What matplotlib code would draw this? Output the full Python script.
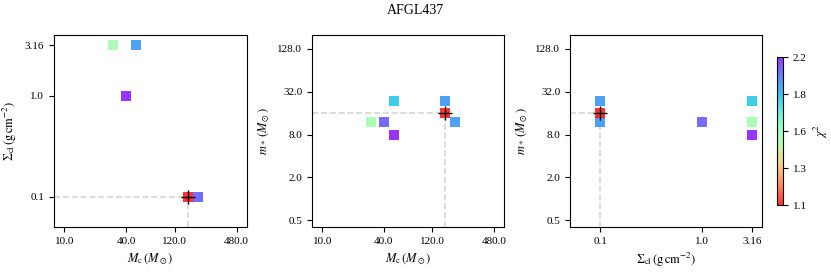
import numpy as np
import matplotlib
matplotlib.use('Agg')
import matplotlib.pyplot as plt
from matplotlib import cm
from matplotlib.colors import Normalize

plt.rcParams['font.family'] = 'serif'
plt.rcParams['font.serif'] = ['Liberation Serif', 'DejaVu Serif']
plt.rcParams['mathtext.fontset'] = 'stix'
plt.rcParams['font.size'] = 8
plt.rcParams['axes.labelsize'] = 9

source = 'AFGL437'

# panel 1: Mc vs Sigma_cl
p1_mc = [30, 50, 40, 200, 160]
p1_sigma = [3.16, 3.16, 1.0, 0.1, 0.1]
p1_chi2 = [1.6, 2.0, 2.2, 2.1, 1.1]

# panel 2: Mc vs m_star
p2_mc = [50, 40, 200, 160, 30, 50, 160]
p2_mstar = [8, 12, 12, 24, 12, 24, 16]
p2_chi2 = [2.2, 2.1, 2.0, 2.0, 1.6, 1.9, 1.1]

# panel 3: Sigma_cl vs m_star
p3_sigma = [3.16, 1.0, 0.1, 0.1, 3.16, 3.16, 0.1]
p3_mstar = [8, 12, 12, 24, 12, 24, 16]
p3_chi2 = [2.2, 2.1, 2.0, 2.0, 1.6, 1.9, 1.1]

# best model
best_mc = 160
best_sigma = 0.1
best_mstar = 16

mc_ticks = [10.0, 40.0, 120.0, 480.0]
sigma_ticks = [0.1, 1.0, 3.16]
mstar_ticks = [0.5, 2.0, 8.0, 32.0, 128.0]
cbar_ticklabels = ['1.1', '1.3', '1.6', '1.8', '2.2']
chi2_min, chi2_max = 1.1, 2.2

cmap = plt.get_cmap('rainbow_r')
norm = Normalize(vmin=chi2_min, vmax=chi2_max)

fig = plt.figure(figsize=(8.31, 2.72), dpi=100)
ax1 = fig.add_axes([0.065, 0.165, 0.232, 0.706])
ax2 = fig.add_axes([0.3755, 0.165, 0.231, 0.706])
ax3 = fig.add_axes([0.686, 0.165, 0.231, 0.706])
cax = fig.add_axes([0.935, 0.246, 0.0072, 0.544])

mc_lim = (7.9, 605)
sigma_lim = (0.05, 3.97)
mstar_lim = (0.4, 200)

gray = '#d5d5d5'
sq = dict(marker='s', s=52, cmap=cmap, norm=norm, alpha=0.8, linewidths=0, zorder=3)
cross = dict(marker='+', color='k', markersize=10, mew=1.0, zorder=5, linestyle='none')

def setup(ax, xt, yt, xlim, ylim):
    ax.set_xscale('log')
    ax.set_yscale('log')
    ax.set_xlim(*xlim)
    ax.set_ylim(*ylim)
    ax.set_xticks(xt)
    ax.set_xticklabels([str(t) for t in xt])
    ax.set_yticks(yt)
    ax.set_yticklabels([str(t) for t in yt])
    ax.minorticks_off()

# Mc vs Sigma
setup(ax1, mc_ticks, sigma_ticks, mc_lim, sigma_lim)
ax1.scatter(p1_mc, p1_sigma, c=p1_chi2, **sq)
ax1.plot([mc_lim[0], best_mc], [best_sigma, best_sigma], '--', color=gray, lw=1.2, zorder=1)
ax1.plot([best_mc, best_mc], [sigma_lim[0], best_sigma], '--', color=gray, lw=1.2, zorder=1)
ax1.plot(best_mc, best_sigma, **cross)
ax1.set_xlabel(r'$M_{\rm c}\,(M_\odot)$')
ax1.set_ylabel(r'$\Sigma_{\rm cl}\,({\rm g\,cm^{-2}})$')

# Mc vs mstar
setup(ax2, mc_ticks, mstar_ticks, mc_lim, mstar_lim)
ax2.scatter(p2_mc, p2_mstar, c=p2_chi2, **sq)
ax2.plot([mc_lim[0], best_mc], [best_mstar, best_mstar], '--', color=gray, lw=1.2, zorder=1)
ax2.plot([best_mc, best_mc], [mstar_lim[0], best_mstar], '--', color=gray, lw=1.2, zorder=1)
ax2.plot(best_mc, best_mstar, **cross)
ax2.set_xlabel(r'$M_{\rm c}\,(M_\odot)$')
ax2.set_ylabel(r'$m_*\,(M_\odot)$')

# Sigma vs mstar
setup(ax3, sigma_ticks, mstar_ticks, sigma_lim, mstar_lim)
ax3.scatter(p3_sigma, p3_mstar, c=p3_chi2, **sq)
ax3.plot([sigma_lim[0], best_sigma], [best_mstar, best_mstar], '--', color=gray, lw=1.2, zorder=1)
ax3.plot([best_sigma, best_sigma], [mstar_lim[0], best_mstar], '--', color=gray, lw=1.2, zorder=1)
ax3.plot(best_sigma, best_mstar, **cross)
ax3.set_xlabel(r'$\Sigma_{\rm cl}\,({\rm g\,cm^{-2}})$')
ax3.set_ylabel(r'$m_*\,(M_\odot)$')

sm = cm.ScalarMappable(norm=norm, cmap=cmap)
sm.set_array([])
cb = fig.colorbar(sm, cax=cax, alpha=0.8)
cb.set_ticks(np.linspace(chi2_min, chi2_max, len(cbar_ticklabels)))
cb.set_ticklabels(cbar_ticklabels)
cb.set_label(r'$\chi^2$', fontsize=9)

fig.suptitle(source, fontsize=10, y=0.985)

plt.savefig('out.png', dpi=100)
